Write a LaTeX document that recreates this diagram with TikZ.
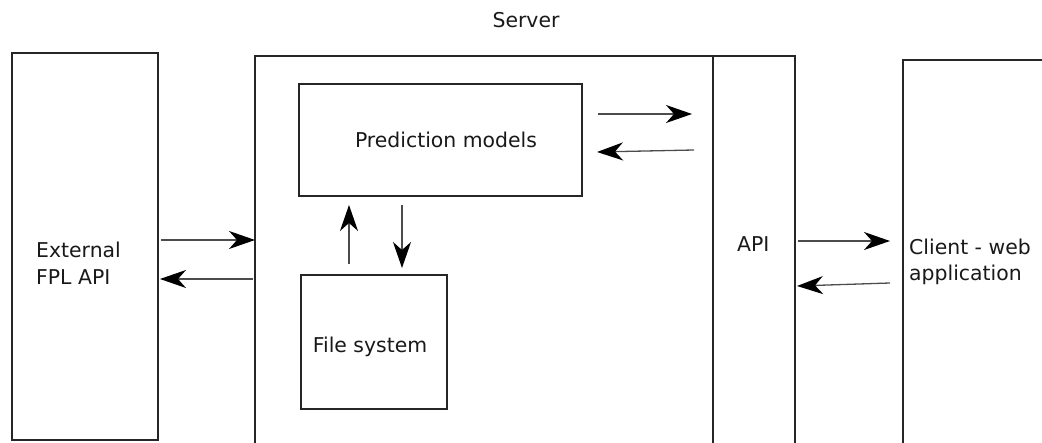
\documentclass[tikz,border=0pt]{standalone}
\usepackage{fontspec}
\setmainfont{DejaVu Sans}
\usetikzlibrary{arrows.meta}
\begin{document}
\begin{tikzpicture}[x=1pt,y=-1pt,
  box/.style={draw=black!85,line width=1.3pt},
  lbl/.style={font=\fontsize{20.4}{26.5}\selectfont,inner sep=0pt,text=black!90},
  arr/.style={draw=black!70,line width=1.3pt,-{Stealth[length=26pt,width=18pt,inset=8pt,black]}}]
\useasboundingbox (0,0) rectangle (1042,443);
\clip (0,0) rectangle (1042,443);
% boxes
\draw[box] (12,440) -- (12,53) -- (158,53) -- (158,440) -- cycle;
\draw[box] (255,460) -- (255,56) -- (795,56) -- (795,460);
\draw[box] (713,56) -- (713,460);
\draw[box] (903,460) -- (903,60) -- (1050,60);
\node[box,minimum width=283pt,minimum height=112pt,inner sep=0pt] (pred) at (440.5,140) {};
\node[box,minimum width=146pt,minimum height=134pt,inner sep=0pt] (fs) at (374,342) {};
% labels
\node[lbl] (server) at (526,20) {Server};
\node[lbl,align=left,anchor=west] (extl) at (36,263.5) {External\\FPL API};
\node[lbl] (predl) at (446,140) {Prediction models};
\node[lbl] (fsl) at (370,347) {File system};
\node[lbl,anchor=west] (apil) at (737,244) {API};
\node[lbl,align=left,anchor=west] (clil) at (909,262) {Client - web\\application};
% arrow end points
\coordinate (a1s) at (161,240); \coordinate (a1e) at (255,240);
\coordinate (a2s) at (253,279); \coordinate (a2e) at (160,279);
\coordinate (a3s) at (349,264); \coordinate (a3e) at (349,205);
\coordinate (a4s) at (402,205); \coordinate (a4e) at (402,268);
\coordinate (a5s) at (598,114); \coordinate (a5e) at (692,114);
\coordinate (a6s) at (694,150); \coordinate (a6e) at (597,152);
\coordinate (a7s) at (798,241); \coordinate (a7e) at (890,241);
\coordinate (a8s) at (890,283); \coordinate (a8e) at (797,286);
\foreach \i in {1,...,8} \draw[arr] (a\i s) -- (a\i e);
\end{tikzpicture}
\end{document}
